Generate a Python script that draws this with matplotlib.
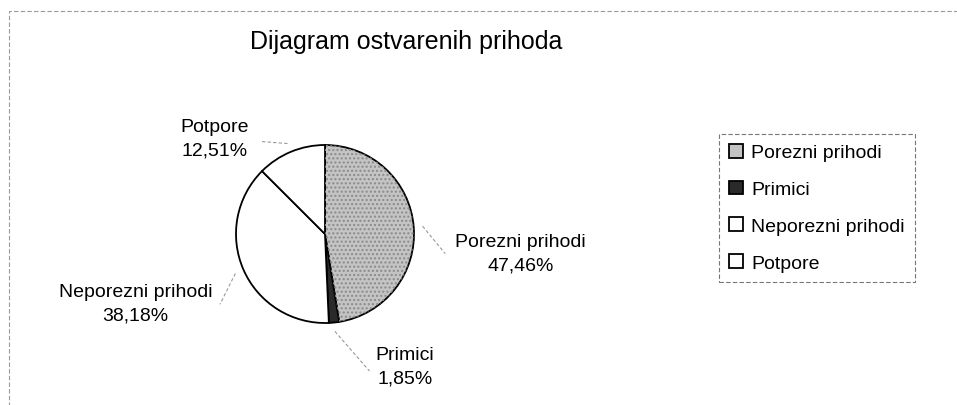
import matplotlib
matplotlib.use("Agg")
import matplotlib.pyplot as plt
from matplotlib.patches import Wedge, Rectangle
import numpy as np

plt.rcParams['font.family'] = ['Liberation Sans', 'DejaVu Sans']

# data
categories = ["Porezni prihodi", "Primici", "Neporezni prihodi", "Potpore"]
shares = [47.46, 1.85, 38.18, 12.51]
pct_labels = ["47,46%", "1,85%", "38,18%", "12,51%"]
colors = ["#c4c4c4", "#2a2a2a", "#ffffff", "#ffffff"]

# label layout (pie radius units): text centre, end of leader line
text_pos = [(2.2, -0.22), (0.9, -1.49), (-2.13, -0.78), (-1.24, 1.08)]
leader_end = [(1.35, -0.22), (0.5, -1.54), (-1.18, -0.79), (-0.73, 1.04)]

fig = plt.figure(figsize=(9.57, 4.06), dpi=100)
W, H = 957, 406

# thin dashed frame round the chart area
fig.patches.append(Rectangle((9 / W, -0.05), 1.1, 1 - 12 / H + 0.05,
                             transform=fig.transFigure, fill=False,
                             edgecolor="#999999", lw=0.8, ls=(0, (4, 2))))

fig.text(406 / W, 1 - 42 / H, "Dijagram ostvarenih prihoda",
         fontsize=18, ha="center", va="center")

cx, cy, r = 325, 235, 89
ax = fig.add_axes([(cx - r) / W, (H - cy - r) / H, 2 * r / W, 2 * r / H])

wedges, _ = ax.pie(shares, startangle=90, counterclock=False,
                   colors=colors, radius=1,
                   wedgeprops=dict(edgecolor="black", linewidth=1.3))
ax.set_xlim(-1, 1)
ax.set_ylim(-1, 1)
ax.set_aspect("equal")
ax.axis("off")

# stippled texture on the first wedge
w0 = wedges[0]
ax.add_patch(Wedge(w0.center, w0.r, w0.theta1, w0.theta2, facecolor="none",
                   edgecolor="#8a8a8a", hatch="....", lw=0))

for w, name, pct, tp, le in zip(wedges, categories, pct_labels, text_pos, leader_end):
    mid = np.deg2rad((w.theta1 + w.theta2) / 2)
    sx, sy = 1.1 * np.cos(mid), 1.1 * np.sin(mid)
    ax.plot([sx, le[0]], [sy, le[1]], color="#999999", lw=0.8,
            ls=(0, (3, 2)), clip_on=False)
    ax.text(tp[0], tp[1], f"{name}\n{pct}", fontsize=14, ha="center",
            va="center", multialignment="center", linespacing=1.5,
            clip_on=False)

leg = fig.legend(wedges, categories, loc="upper left",
                 bbox_to_anchor=(719 / W, 1 - 135 / H), fontsize=14,
                 frameon=True, fancybox=False, handlelength=0.72,
                 handleheight=0.72, handletextpad=0.45, labelspacing=0.98,
                 borderpad=0.5, borderaxespad=0)
leg.get_frame().set_edgecolor("#555555")
leg.get_frame().set_linewidth(0.8)
leg.get_frame().set_linestyle((0, (4, 2)))

fig.savefig("out.png", dpi=100)
